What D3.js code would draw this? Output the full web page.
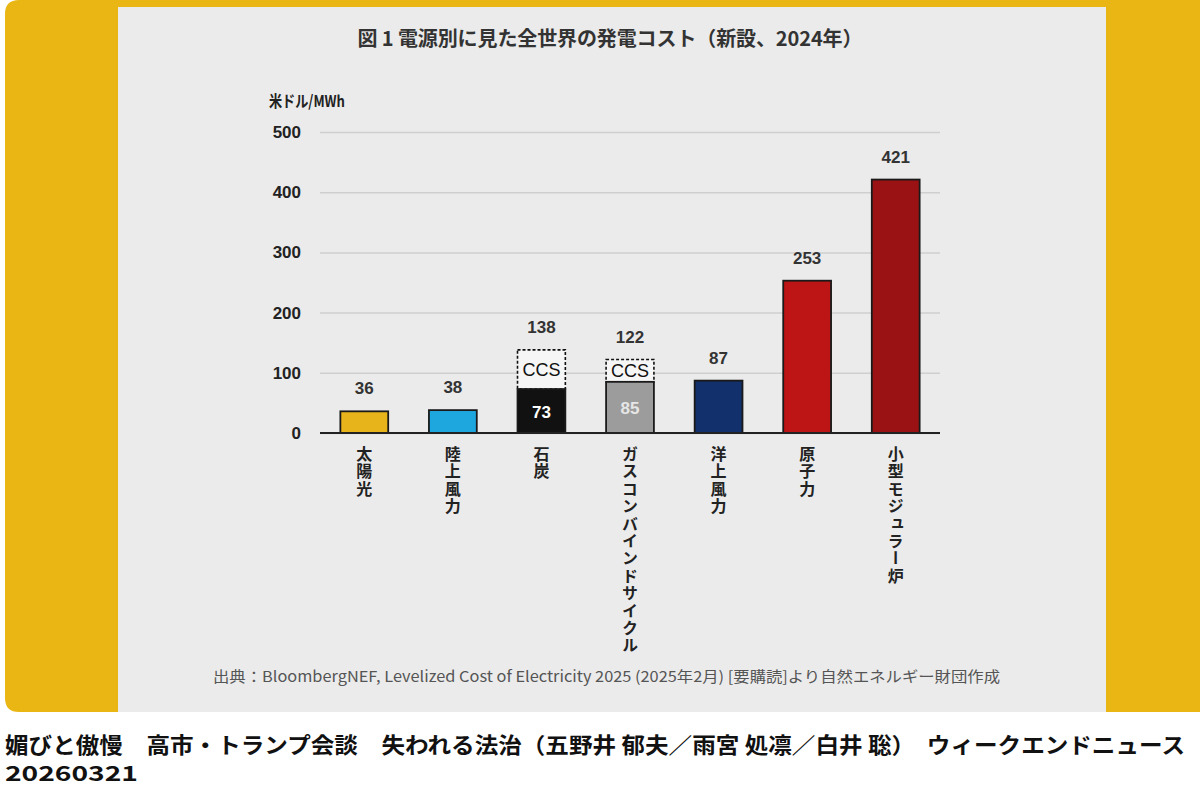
<!DOCTYPE html>
<html>
<head>
<meta charset="utf-8">
<script src="https://cdn.jsdelivr.net/npm/d3@7"></script>
<style>
  body { margin: 0; background: #fff; }
  svg text { font-family: "Noto Sans CJK JP", "Noto Sans", sans-serif; }
</style>
</head>
<body>
<svg id="chart" width="1200" height="786"></svg>
<script>
// data
var sources = ["太陽光", "陸上風力", "石炭", "ガスコンバインドサイクル", "洋上風力", "原子力", "小型モジュラー炉"];
var costs = [36, 38, 73, 85, 87, 253, 421];
var ccsCosts = [null, null, 138, 122, null, null, null];
var barColors = ["#e8b41c", "#1ea7df", "#111111", "#9c9c9c", "#12306b", "#bd1416", "#9a1213"];
var innerLabelColors = [null, null, "#ffffff", "#e6e6e6", null, null, null];
var yTicks = [0, 100, 200, 300, 400, 500];

var svg = d3.select("#chart");
var numFont = "'Liberation Sans', Arial, sans-serif";

// yellow frame + grey panel
svg.append("path")
    .attr("d", "M5,14 Q5,0 19,0 L1200,0 L1200,712 L19,712 Q5,712 5,698 Z")
    .attr("fill", "#e9b614");
svg.append("rect")
    .attr("x", 118).attr("y", 7)
    .attr("width", 988).attr("height", 705)
    .attr("fill", "#ebebeb");

svg.append("text")
    .attr("x", 610).attr("y", 46)
    .attr("text-anchor", "middle")
    .attr("font-size", 20).attr("font-weight", "bold")
    .attr("fill", "#333")
    .attr("textLength", 505)
    .text("図 1 電源別に見た全世界の発電コスト（新設、2024年）");

svg.append("text")
    .attr("x", 269).attr("y", 107)
    .attr("font-size", 16).attr("font-weight", "bold")
    .attr("fill", "#222")
    .attr("textLength", 76).attr("lengthAdjust", "spacingAndGlyphs")
    .text("米ドル/MWh");

var x = d3.scaleBand().domain(sources).range([320, 940]).paddingInner(0.46).paddingOuter(0.23);
var y = d3.scaleLinear().domain([0, 500]).range([433, 132]);

// gridlines + tick labels
var yAxis = svg.append("g")
    .attr("transform", "translate(320,0)")
    .call(d3.axisLeft(y).tickValues(yTicks).tickSize(-620).tickPadding(19));
yAxis.select(".domain").remove();
yAxis.selectAll(".tick line").attr("stroke", "#cfcfcf").attr("stroke-width", 1.5);
yAxis.selectAll(".tick text")
    .attr("font-size", 17).attr("font-weight", "bold")
    .attr("fill", "#222")
    .style("font-family", numFont);

// CCS dashed boxes
var ccsData = sources.filter(function(d, i) { return ccsCosts[i] != null; });
svg.selectAll(".ccs")
    .data(ccsData)
    .enter().append("rect")
    .attr("class", "ccs")
    .attr("x", function(d) { return x(d); })
    .attr("width", x.bandwidth())
    .attr("y", function(d) { return y(ccsCosts[sources.indexOf(d)]); })
    .attr("height", function(d) { var i = sources.indexOf(d); return y(costs[i]) - y(ccsCosts[i]); })
    .attr("fill", "#f6f6f6")
    .attr("stroke", "#111")
    .attr("stroke-width", 1.6)
    .attr("stroke-dasharray", "3,2");

svg.selectAll(".ccs-label")
    .data(ccsData)
    .enter().append("text")
    .attr("x", function(d) { return x(d) + x.bandwidth() / 2; })
    .attr("y", function(d) { var i = sources.indexOf(d); return (y(costs[i]) + y(ccsCosts[i])) / 2 + 6.5; })
    .attr("text-anchor", "middle")
    .attr("font-size", 18)
    .attr("fill", "#111")
    .style("font-family", numFont)
    .text("CCS");

// main bars
svg.selectAll(".bar")
    .data(sources)
    .enter().append("rect")
    .attr("class", "bar")
    .attr("x", function(d) { return x(d); })
    .attr("width", x.bandwidth())
    .attr("y", function(d, i) { return y(costs[i]); })
    .attr("height", function(d, i) { return y(0) - y(costs[i]); })
    .attr("fill", function(d, i) { return barColors[i]; })
    .attr("stroke", "#1a1a1a")
    .attr("stroke-width", 1.8);

// baseline
svg.append("line")
    .attr("x1", 320).attr("x2", 940)
    .attr("y1", y(0)).attr("y2", y(0))
    .attr("stroke", "#222").attr("stroke-width", 2);

// value labels on top
svg.selectAll(".val")
    .data(sources)
    .enter().append("text")
    .attr("x", function(d) { return x(d) + x.bandwidth() / 2; })
    .attr("y", function(d, i) { return y(ccsCosts[i] != null ? ccsCosts[i] : costs[i]) - 17; })
    .attr("text-anchor", "middle")
    .attr("font-size", 17).attr("font-weight", "bold")
    .attr("fill", "#333")
    .style("font-family", numFont)
    .text(function(d, i) { return ccsCosts[i] != null ? ccsCosts[i] : costs[i]; });

// values inside coal / gas bars
svg.selectAll(".inner")
    .data(sources.filter(function(d, i) { return innerLabelColors[i] != null; }))
    .enter().append("text")
    .attr("x", function(d) { return x(d) + x.bandwidth() / 2; })
    .attr("y", function(d) { return (y(costs[sources.indexOf(d)]) + y(0)) / 2 + 6.5; })
    .attr("text-anchor", "middle")
    .attr("font-size", 17).attr("font-weight", "bold")
    .attr("fill", function(d) { return innerLabelColors[sources.indexOf(d)]; })
    .style("font-family", numFont)
    .text(function(d) { return costs[sources.indexOf(d)]; });

// vertical category labels
svg.selectAll(".cat")
    .data(sources)
    .enter().append("text")
    .attr("x", function(d) { return x(d) + x.bandwidth() / 2; })
    .attr("y", 446)
    .attr("font-size", 16).attr("font-weight", "bold")
    .attr("fill", "#222")
    .style("writing-mode", "vertical-rl")
    .style("letter-spacing", "1.4px")
    .text(function(d) { return d; });

svg.append("text")
    .attr("x", 213).attr("y", 682)
    .attr("font-size", 15)
    .attr("fill", "#555")
    .attr("textLength", 787).attr("lengthAdjust", "spacingAndGlyphs")
    .text("出典：BloombergNEF, Levelized Cost of Electricity 2025 (2025年2月) [要購読]より自然エネルギー財団作成");

// page caption under the image
svg.append("text")
    .attr("x", 5).attr("y", 753)
    .attr("font-size", 22).attr("font-weight", "bold")
    .attr("fill", "#111")
    .attr("textLength", 1180).attr("lengthAdjust", "spacingAndGlyphs")
    .text("媚びと傲慢　高市・トランプ会談　失われる法治（五野井 郁夫／雨宮 処凛／白井 聡）　ウィークエンドニュース");
svg.append("text")
    .attr("x", 5).attr("y", 781)
    .attr("font-size", 21).attr("font-weight", "bold")
    .attr("fill", "#111")
    .attr("textLength", 133).attr("lengthAdjust", "spacingAndGlyphs")
    .text("20260321");
</script>
</body>
</html>
